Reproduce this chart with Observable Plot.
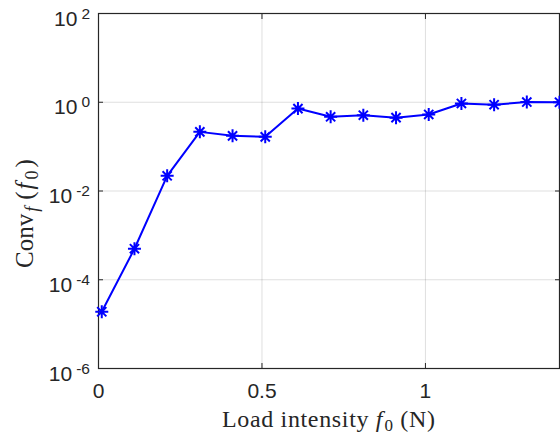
<!DOCTYPE html>
<html><head><meta charset="utf-8">
<script src="https://cdn.jsdelivr.net/npm/d3@7"></script>
<script src="https://cdn.jsdelivr.net/npm/@observablehq/plot@0.6"></script>
<style>body{margin:0;background:#fff} #chart{width:560px;height:436px}</style>
</head><body><div id="chart"></div>
<script>
// Data
const loadIntensity = [0.01, 0.11, 0.21, 0.31, 0.41, 0.51, 0.61, 0.71, 0.81, 0.91, 1.01, 1.11, 1.21, 1.31, 1.41];
const convergence = [1.9e-5, 5.0e-4, 0.022, 0.215, 0.175, 0.166, 0.72, 0.47, 0.51, 0.45, 0.53, 0.94, 0.88, 1.01, 1.0];
const xTicks = [0, 0.5, 1];
const xTickLabels = ["0", "0.5", "1"];
const yTicks = [1e-6, 1e-4, 1e-2, 1, 1e2];
const yTickExponents = ["-6", "-4", "-2", "0", "2"];

const data = loadIntensity.map((x, i) => ({x, y: convergence[i]}));
const axisColor = "#262626";
const blue = "#0000ff";

// 8-armed asterisk marker (MATLAB '*')
const asterisk = {
  draw(context, size) {
    const r = Math.sqrt(size / Math.PI);
    const d = r * Math.SQRT1_2;
    context.moveTo(-r, 0); context.lineTo(r, 0);
    context.moveTo(0, -r); context.lineTo(0, r);
    context.moveTo(-d, -d); context.lineTo(d, d);
    context.moveTo(-d, d); context.lineTo(d, -d);
  }
};

const svg = Plot.plot({
  width: 560,
  height: 436,
  marginLeft: 98,
  marginRight: 1,
  marginTop: 13,
  marginBottom: 68,
  style: {fontFamily: "'Liberation Sans', Arial, Helvetica, sans-serif", color: axisColor, background: "#fff"},
  x: {domain: [0, 1.41], label: null},
  y: {type: "log", domain: [1e-6, 1e2], label: null},
  marks: [
    Plot.gridX(xTicks, {stroke: axisColor, strokeOpacity: 0.15}),
    Plot.gridY(yTicks, {stroke: axisColor, strokeOpacity: 0.15}),
    // inward ticks on all four sides
    Plot.axisX(xTicks, {anchor: "bottom", tickSize: 5, dy: -5, fill: "none", tickFormat: () => "", label: null}),
    Plot.axisX(xTicks, {anchor: "top", tickSize: 5, dy: 5, fill: "none", tickFormat: () => "", label: null}),
    Plot.axisY(yTicks, {anchor: "left", tickSize: 5, dx: 5, fill: "none", tickFormat: () => "", label: null}),
    Plot.axisY(yTicks, {anchor: "right", tickSize: 5, dx: -5, fill: "none", tickFormat: () => "", label: null}),
    // tick labels
    Plot.axisX(xTicks, {anchor: "bottom", tickSize: 0, tickPadding: 15, fontSize: 21,
      tickFormat: d => xTickLabels[xTicks.indexOf(d)], label: null}),
    Plot.axisY(yTicks, {anchor: "left", tickSize: 0, tickPadding: 8.5, fontSize: 21,
      tickFormat: d => "10^" + yTickExponents[yTicks.indexOf(d)], label: null}),
    Plot.frame({stroke: axisColor, strokeWidth: 1.2}),
    Plot.line(data, {x: "x", y: "y", stroke: blue, strokeWidth: 2}),
    Plot.dot(data, {x: "x", y: "y", symbol: asterisk, r: 6.5, stroke: blue, strokeWidth: 2, fill: "none"})
  ]
});

const s = d3.select(svg);
// superscript exponents on y tick labels
s.selectAll('g[aria-label="y-axis tick label"] text').each(function () {
  const parts = this.textContent.split("^");
  const t = d3.select(this);
  t.text(null).attr("y", 12);
  t.append("tspan").text(parts[0]);
  t.append("tspan").attr("dx", 4).attr("dy", -7).attr("font-size", 15.5).text(parts[1]);
});

// x-axis label
const xl = s.append("text")
  .attr("x", 328.5).attr("y", 427)
  .attr("text-anchor", "middle")
  .attr("font-family", "'Liberation Serif', 'Times New Roman', serif")
  .attr("font-size", 24).attr("fill", axisColor)
  .attr("textLength", 213).attr("lengthAdjust", "spacing");
xl.append("tspan").text("Load intensity ");
xl.append("tspan").attr("font-style", "italic").text("f");
xl.append("tspan").attr("font-size", 17).attr("dy", 4).attr("dx", 1.5).text("0");
xl.append("tspan").attr("dy", -4).text(" (N)");

// y-axis label
const yl = s.append("text")
  .attr("transform", "translate(33,268) rotate(-90)")
  .attr("text-anchor", "start")
  .attr("font-family", "'Liberation Serif', 'Times New Roman', serif")
  .attr("font-size", 25).attr("fill", axisColor);
yl.append("tspan").text("Conv");
yl.append("tspan").attr("font-style", "italic").attr("font-size", 18).attr("dy", 5).attr("dx", 2).text("f");
yl.append("tspan").attr("dy", -5).attr("dx", 7).text("(");
yl.append("tspan").attr("font-style", "italic").attr("dx", 2).text("f");
yl.append("tspan").attr("font-size", 18).attr("dy", 5).attr("dx", 3).text("0");
yl.append("tspan").attr("dy", -5).attr("dx", 3).text(")");

document.getElementById("chart").appendChild(svg);
</script>
</body></html>
